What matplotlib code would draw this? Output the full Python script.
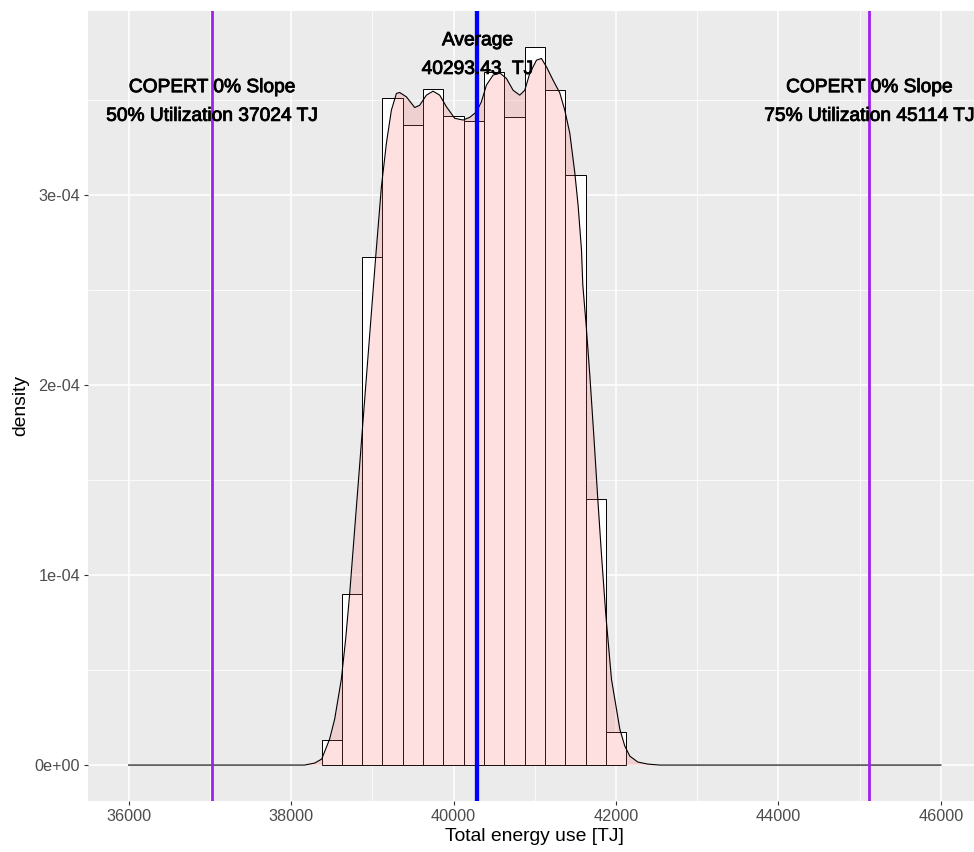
import numpy as np
import matplotlib
matplotlib.use("Agg")
import matplotlib.pyplot as plt
import matplotlib.patheffects as pe

plt.rcParams['font.family'] = ['Liberation Sans', 'DejaVu Sans']

# histogram bins (binwidth 250 TJ) and their densities
bin_centers = [38500, 38750, 39000, 39250, 39500, 39750, 40000, 40250,
               40500, 40750, 41000, 41250, 41500, 41750, 42000]
bin_density = [1.31e-5, 9.02e-5, 2.675e-4, 3.509e-4, 3.370e-4, 3.559e-4,
               3.417e-4, 3.391e-4, 3.648e-4, 3.412e-4, 3.780e-4, 3.552e-4,
               3.107e-4, 1.398e-4, 1.73e-5]
bin_width = 250

# kernel density estimate of the total energy use
kde_x = [36000, 38167, 38291, 38377, 38475, 38537, 38619, 38672, 38722,
         38783, 38845, 38906, 38968, 39042, 39112, 39174, 39235, 39297,
         39337, 39420, 39522, 39584, 39666, 39748, 39830, 39912, 40015,
         40117, 40199, 40282, 40343, 40405, 40486, 40569, 40651, 40733,
         40815, 40877, 40938, 41021, 41082, 41144, 41225, 41308, 41369,
         41431, 41492, 41533, 41575, 41591, 41632, 41677, 41726, 41776,
         41825, 41874, 41944, 41985, 42047, 42108, 42170, 42268, 42391,
         42539, 46000]
kde_y = [0, 0, 0.0105, 0.0315, 0.137, 0.242, 0.452, 0.662, 0.904,
         1.240, 1.582, 1.923, 2.265, 2.675, 3.043, 3.274, 3.447, 3.535,
         3.540, 3.517, 3.461, 3.473, 3.526, 3.547, 3.526, 3.465, 3.404,
         3.395, 3.409, 3.438, 3.491, 3.579, 3.631, 3.643, 3.614, 3.552,
         3.526, 3.552, 3.640, 3.710, 3.719, 3.675, 3.605, 3.538, 3.447,
         3.326, 3.120, 2.948, 2.711, 2.528, 2.317, 2.055, 1.739, 1.398,
         1.083, 0.793, 0.452, 0.347, 0.189, 0.100, 0.047, 0.016, 0.005,
         0, 0]
kde_y = [v * 1e-4 for v in kde_y]

# reference values
copert_50 = 37024
copert_75 = 45114
average = 40293.43

x_ticks = [36000, 38000, 40000, 42000, 44000, 46000]
y_ticks = [0, 1e-4, 2e-4, 3e-4]
y_tick_labels = ['0e+00', '1e-04', '2e-04', '3e-04']

fig = plt.figure(figsize=(9.74, 8.52), dpi=100)
ax = fig.add_axes([0.0903, 0.0599, 0.9175, 0.9272])
ax.set_facecolor('#EBEBEB')
for s in ax.spines.values():
    s.set_visible(False)

ax.set_xlim(35500, 46500)
ymax = max(max(bin_density), max(kde_y))
ax.set_ylim(-0.05 * ymax, 1.05 * ymax)

ax.set_xticks(x_ticks)
ax.set_xticks([37000, 39000, 41000, 43000, 45000], minor=True)
ax.set_yticks(y_ticks)
ax.set_yticklabels(y_tick_labels)
ax.set_yticks([0.5e-4, 1.5e-4, 2.5e-4, 3.5e-4], minor=True)
ax.grid(which='major', color='white', linewidth=1.1)
ax.grid(which='minor', color='white', linewidth=0.55)
ax.set_axisbelow(True)
ax.tick_params(which='major', length=3, width=0.8, color='#333333',
               labelsize=11.7, labelcolor='#4D4D4D', pad=2.5)
ax.tick_params(which='minor', length=0)

# histogram, then density on top
ax.bar(bin_centers, bin_density, width=bin_width, color='white',
       edgecolor='black', linewidth=0.7, zorder=2)
ax.fill_between(kde_x, kde_y, 0, color='#FF6666', alpha=0.2, linewidth=0,
                zorder=3)
ax.plot(kde_x, kde_y, color='black', linewidth=0.8, zorder=4)

ax.axvline(copert_50, color='#A020F0', linewidth=2.0, zorder=5)
ax.axvline(copert_75, color='#A020F0', linewidth=2.0, zorder=5)
ax.axvline(average, color='blue', linewidth=3.1, zorder=5)

txt_fx = [pe.withStroke(linewidth=0.6, foreground='black')]
ax.text(copert_50, 3.49e-4, f'COPERT 0% Slope\n50% Utilization {copert_50} TJ',
        ha='center', va='center', fontsize=13.8, linespacing=1.9,
        path_effects=txt_fx, zorder=6)
ax.text(copert_75, 3.49e-4, f'COPERT 0% Slope\n75% Utilization {copert_75} TJ',
        ha='center', va='center', fontsize=13.8, linespacing=1.9,
        path_effects=txt_fx, zorder=6)
ax.text(average, 3.737e-4, f'Average\n{average:.2f}  TJ',
        ha='center', va='center', fontsize=13.8, linespacing=1.9,
        path_effects=txt_fx, zorder=6)

ax.set_xlabel('Total energy use [TJ]', fontsize=13.9, labelpad=3)
ax.set_ylabel('density', fontsize=13.9, labelpad=4)

fig.savefig('out.png', dpi=100)
